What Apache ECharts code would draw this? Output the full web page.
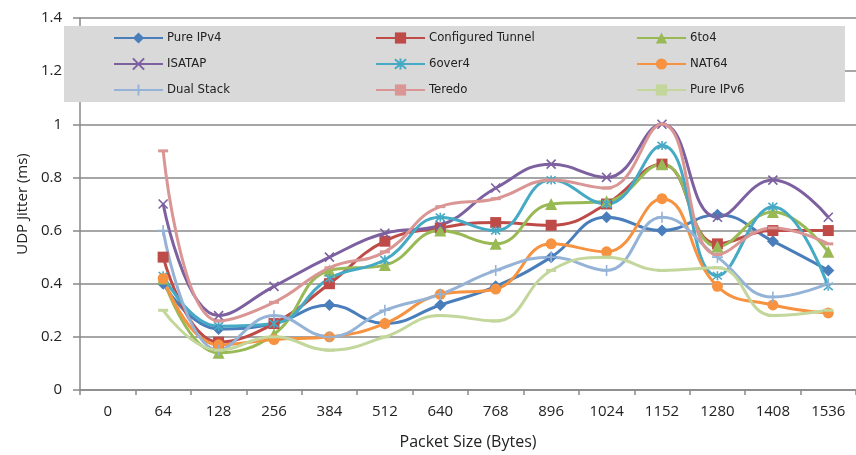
<!DOCTYPE html>
<html>
<head>
<meta charset="utf-8">
<script src="https://cdn.jsdelivr.net/npm/echarts@6/dist/echarts.min.js"></script>
<style>
  html, body { margin: 0; padding: 0; background: #fff; }
  #chart { width: 856px; height: 455px; }
</style>
</head>
<body>
<div id="chart"></div>
<script>
// Packet sizes along the x axis (the first slot, 0, carries no measurement)
const packetSizes = ['0', '64', '128', '256', '384', '512', '640', '768', '896', '1024', '1152', '1280', '1408', '1536'];

// UDP jitter in ms for each transition mechanism
const pureIPv4         = [null, 0.40, 0.23, 0.25, 0.32, 0.25, 0.32, 0.39, 0.50, 0.65, 0.60, 0.66, 0.56, 0.45];
const configuredTunnel = [null, 0.50, 0.18, 0.25, 0.40, 0.56, 0.61, 0.63, 0.62, 0.70, 0.85, 0.55, 0.60, 0.60];
const sixToFour        = [null, 0.42, 0.14, 0.21, 0.45, 0.47, 0.60, 0.55, 0.70, 0.71, 0.85, 0.54, 0.67, 0.52];
const isatap           = [null, 0.70, 0.28, 0.39, 0.50, 0.59, 0.62, 0.76, 0.85, 0.80, 1.00, 0.65, 0.79, 0.65];
const sixOverFour      = [null, 0.43, 0.24, 0.25, 0.42, 0.49, 0.65, 0.60, 0.79, 0.70, 0.92, 0.43, 0.69, 0.39];
const nat64            = [null, 0.42, 0.17, 0.19, 0.20, 0.25, 0.36, 0.38, 0.55, 0.52, 0.72, 0.39, 0.32, 0.29];
const dualStack        = [null, 0.60, 0.15, 0.28, 0.20, 0.30, 0.36, 0.45, 0.50, 0.45, 0.65, 0.50, 0.35, 0.40];
const teredo           = [null, 0.90, 0.26, 0.33, 0.46, 0.52, 0.69, 0.72, 0.79, 0.76, 1.00, 0.51, 0.61, 0.55];
const pureIPv6         = [null, 0.30, 0.15, 0.20, 0.15, 0.20, 0.28, 0.26, 0.45, 0.50, 0.45, 0.46, 0.28, 0.30];

// Y axis range
const yMin = 0, yMax = 1.4, yStep = 0.2;

const FONT = '"Liberation Sans Narrow", "DejaVu Sans Condensed", "Open Sans", sans-serif';
const AXIS_FONT = '"Open Sans", "DejaVu Sans", sans-serif';
const GRAY = '#898989';

// Stroke-only marker shapes
const SYM_X = 'path://M0,0L10,10M10,0L0,10';
const SYM_STAR = 'path://M0,0L10,10M10,0L0,10M5,-1L5,11';
const SYM_PLUS = 'path://M5,0L5,10M0,5L10,5';

function line(name, data, color, symbol, size, stroked) {
  return {
    name: name,
    type: 'line',
    data: data,
    smooth: 0.45,
    symbol: symbol,
    symbolSize: size,
    showAllSymbol: true,
    lineStyle: { color: color, width: 3 },
    itemStyle: stroked
      ? { color: color, borderColor: color, borderWidth: 1.6 }
      : { color: color, borderWidth: 0 },
    emphasis: { disabled: true },
    z: 3
  };
}

const series = [
  line('Pure IPv4', pureIPv4, '#4A7EBB', 'diamond', 12, false),
  line('Configured Tunnel', configuredTunnel, '#BE4B48', 'rect', 11, false),
  line('6to4', sixToFour, '#98B954', 'triangle', 12, false),
  line('ISATAP', isatap, '#7D60A0', SYM_X, 9, true),
  line('6over4', sixOverFour, '#46AAC5', SYM_STAR, 9, true),
  line('NAT64', nat64, '#F69240', 'circle', 11, false),
  line('Dual Stack', dualStack, '#95B3D7', SYM_PLUS, 11, true),
  line('Teredo', teredo, '#D99694', 'rect', [10, 3], false),
  line('Pure IPv6', pureIPv6, '#C3D69B', 'rect', [10, 3], false)
];

function legendColumn(left, names) {
  return {
    data: names,
    orient: 'vertical',
    left: left,
    top: 30,
    itemWidth: 49,
    itemHeight: 14,
    itemGap: 10,
    padding: 0,
    selectedMode: false,
    textStyle: { fontFamily: FONT, fontSize: 13, color: '#222', lineHeight: 16, padding: [0, 0, 0, -1] }
  };
}

const chart = echarts.init(document.getElementById('chart'), null, { renderer: 'canvas' });
chart.setOption({
  animation: false,
  backgroundColor: '#ffffff',
  grid: { left: 80, width: 788, top: 18, bottom: 63, containLabel: false },
  graphic: [{
    type: 'rect',
    shape: { x: 64, y: 26, width: 781, height: 76 },
    style: { fill: '#D9D9D9' },
    z: 2
  }],
  legend: [
    legendColumn(113, ['Pure IPv4', 'ISATAP', 'Dual Stack']),
    legendColumn(375, ['Configured Tunnel', '6over4', 'Teredo']),
    legendColumn(636, ['6to4', 'NAT64', 'Pure IPv6'])
  ],
  xAxis: {
    type: 'category',
    data: packetSizes,
    boundaryGap: true,
    name: 'Packet Size (Bytes)',
    nameLocation: 'middle',
    nameGap: 44,
    nameTextStyle: { fontFamily: AXIS_FONT, fontSize: 16, color: '#222' },
    axisLine: { lineStyle: { color: GRAY, width: 1.5 } },
    axisTick: { show: true, alignWithLabel: false, length: 5, lineStyle: { color: GRAY, width: 1.5 } },
    axisLabel: { fontFamily: AXIS_FONT, fontSize: 15, color: '#222', margin: 14, interval: 0 },
    splitLine: { show: false }
  },
  yAxis: {
    type: 'value',
    min: yMin,
    max: yMax,
    interval: yStep,
    name: 'UDP Jitter (ms)',
    nameLocation: 'middle',
    nameRotate: 90,
    nameGap: 50,
    nameTextStyle: { fontFamily: AXIS_FONT, fontSize: 15, color: '#222' },
    axisLine: { show: true, lineStyle: { color: GRAY, width: 1.5 } },
    axisTick: { show: true, length: 7, lineStyle: { color: GRAY, width: 1.5 } },
    axisLabel: { fontFamily: AXIS_FONT, fontSize: 15, color: '#222', margin: 18 },
    splitLine: { show: true, lineStyle: { color: GRAY, width: 1.5 } }
  },
  series: series
});
</script>
</body>
</html>
